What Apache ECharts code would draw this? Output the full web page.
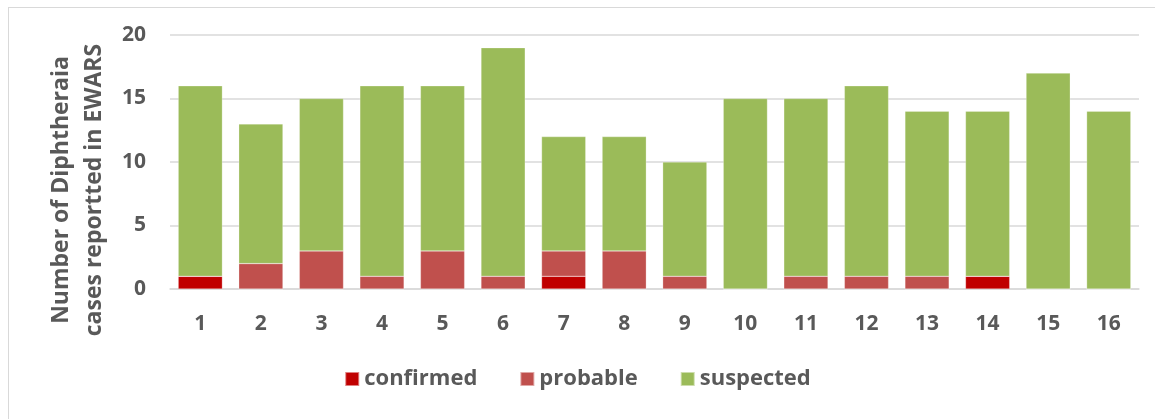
<!DOCTYPE html>
<html>
<head>
<meta charset="utf-8">
<style>
  html, body { margin: 0; padding: 0; background: #fff; }
  #frame { position: absolute; left: 8px; top: 7px; width: 1160px; height: 420px; border: 1px solid #d9d9d9; box-sizing: border-box; }
  #chart { position: absolute; left: 0; top: 0; width: 1155px; height: 419px; }
</style>
<script src="https://cdn.jsdelivr.net/npm/echarts@6/dist/echarts.min.js"></script>
</head>
<body>
<div id="frame"></div>
<div id="chart"></div>
<script>
const weeks = ['1', '2', '3', '4', '5', '6', '7', '8', '9', '10', '11', '12', '13', '14', '15', '16']
const confirmed = [1, 0, 0, 0, 0, 0, 1, 0, 0, 0, 0, 0, 0, 1, 0, 0]
const probable = [0, 2, 3, 1, 3, 1, 2, 3, 1, 0, 1, 1, 1, 0, 0, 0]
const suspected = [15, 11, 12, 15, 13, 18, 9, 9, 9, 15, 14, 15, 13, 13, 17, 14]
const yTicks = [0, 5, 10, 15, 20]

const textColor = '#595959'
const font = 'Open Sans'

const chart = echarts.init(document.getElementById('chart'))

function barSeries(name, data, color) {
  return {
    name: name,
    type: 'bar',
    stack: 'cases',
    barWidth: '73%',
    data: data,
    itemStyle: { color: color, borderColor: 'rgba(255,255,255,0.5)', borderWidth: 0.5 },
    animation: false
  }
}

chart.setOption({
  animation: false,
  grid: { left: 170, right: 16, top: 35, bottom: 130, outerBoundsMode: 'none', containLabel: false },
  legend: {
    bottom: 24,
    left: 'center',
    itemWidth: 14,
    itemHeight: 14,
    itemGap: 42,
    icon: 'rect',
    textStyle: { color: textColor, fontSize: 22, fontWeight: 'bold', fontFamily: font },
    data: ['confirmed', 'probable', 'suspected']
  },
  xAxis: {
    type: 'category',
    data: weeks,
    axisTick: { show: false },
    axisLine: { lineStyle: { color: '#d9d9d9', width: 1.5 } },
    axisLabel: { color: textColor, fontSize: 21, fontWeight: 'bold', fontFamily: font, margin: 25 }
  },
  yAxis: {
    type: 'value',
    min: yTicks[0],
    max: yTicks[yTicks.length - 1],
    interval: 5,
    name: 'Number of Diphtheraia\ncases reportted in EWARS',
    nameLocation: 'middle',
    nameGap: 57,
    nameTextStyle: { color: textColor, fontSize: 23, fontWeight: 'bold', fontFamily: font, lineHeight: 33, padding: [0, 56, 0, 0] },
    axisLine: { show: false },
    axisTick: { show: false },
    splitLine: { lineStyle: { color: '#d9d9d9', width: 1.5 } },
    axisLabel: { color: textColor, fontSize: 21, fontWeight: 'bold', fontFamily: font, margin: 24 }
  },
  series: [
    barSeries('confirmed', confirmed, '#C00000'),
    barSeries('probable', probable, '#C0504D'),
    barSeries('suspected', suspected, '#9BBB59')
  ]
})
</script>
</body>
</html>
